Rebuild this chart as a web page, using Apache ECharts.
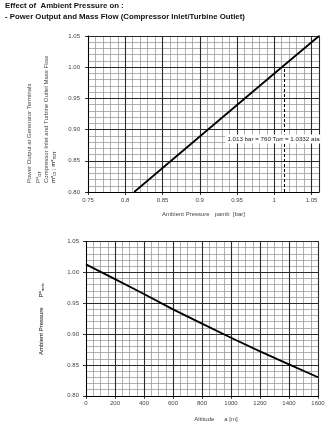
<!DOCTYPE html>
<html><head><meta charset="utf-8">
<script src="https://cdn.jsdelivr.net/npm/echarts@6/dist/echarts.min.js"></script>
<style>html,body{margin:0;padding:0;background:#fff}#c{width:328px;height:425px}</style>
</head><body><div id="c"></div>
<script>
// ---- data ----
const titleLine1 = 'Effect of  Ambient Pressure on :';
const titleLine2 = '- Power Output and Mass Flow (Compressor Inlet/Turbine Outlet)';
const topXName = 'Ambient Pressure   pamb  [bar]';
const bottomXName = 'Altitude      a [m]';
const pressureBar = [0.812, 0.90, 1.00, 1.06];
const powerRatio  = [0.80, 0.889, 0.99, 1.05];
const refPressure = 1.013;
const refRange = [0.80, 1.00];
const refLabelY = 0.885;
const refLabel = '1.013 bar = 760 Torr = 1.0332 ata';
const altitudeM = [0, 200, 400, 600, 800, 1000, 1200, 1400, 1600];
const ambPressure = [1.013, 0.989, 0.965, 0.940, 0.917, 0.894, 0.872, 0.851, 0.830];

const FONT = 'Liberation Sans, Arial, sans-serif';
const MAJOR = '#2a2a2a', MINOR = '#8f8f8f', LBL = '#444';

function minorAxis(pos, gi, min, max, iv) {
  return {
    type: 'value', gridIndex: gi, position: pos, min: min, max: max, interval: iv, z: 0,
    axisLine: {show: true, onZero: false, lineStyle: {color: '#000', width: 1}},
    axisTick: {show: false}, axisLabel: {show: false},
    splitLine: {show: true, lineStyle: {color: MINOR, width: 0.7}}
  };
}
function majorAxis(pos, gi, min, max, iv, extra) {
  return Object.assign({
    type: 'value', gridIndex: gi, position: pos, min: min, max: max, interval: iv, z: 1,
    axisLine: {show: true, onZero: false, lineStyle: {color: '#000', width: 1}},
    axisTick: {show: true, inside: false, length: 3, lineStyle: {color: '#000', width: 0.8}},
    axisLabel: {show: true, fontFamily: FONT, fontSize: 6, color: LBL, margin: 5, showMaxLabel: true},
    splitLine: {show: true, lineStyle: {color: MAJOR, width: 1.1}}
  }, extra || {});
}

const chart = echarts.init(document.getElementById('c'), null, {renderer: 'canvas'});
chart.setOption({
  animation: false,
  backgroundColor: '#fff',
  grid: [
    {left: 88, right: 9, top: 36, height: 156},
    {left: 86, right: 10, top: 241.5, height: 154.3}
  ],
  xAxis: [
    minorAxis('top', 0, 0.75, 1.06, 0.01),
    majorAxis('bottom', 0, 0.75, 1.06, 0.05, {
      name: topXName, nameLocation: 'middle', nameGap: 19,
      nameTextStyle: {fontFamily: FONT, fontSize: 6, color: LBL},
      axisLabel: {show: true, fontFamily: FONT, fontSize: 6, color: LBL, margin: 5, showMaxLabel: false}
    }),
    minorAxis('top', 1, 0, 1600, 50),
    majorAxis('bottom', 1, 0, 1600, 200, {
      name: bottomXName, nameLocation: 'middle', nameGap: 21,
      nameTextStyle: {fontFamily: FONT, fontSize: 6, color: LBL, padding: [0, 0, 0, 28]},
      axisLabel: {show: true, fontFamily: FONT, fontSize: 6, color: LBL, margin: 5, formatter: v => String(v)}
    })
  ],
  yAxis: [
    minorAxis('right', 0, 0.80, 1.05, 0.01),
    majorAxis('left', 0, 0.80, 1.05, 0.05, {
      axisLabel: {show: true, fontFamily: FONT, fontSize: 6, color: LBL, margin: 8,
        formatter: v => v.toFixed(2)}
    }),
    minorAxis('right', 1, 0.80, 1.05, 0.01),
    majorAxis('left', 1, 0.80, 1.05, 0.05, {
      axisLabel: {show: true, fontFamily: FONT, fontSize: 6, color: LBL, margin: 7,
        formatter: v => v.toFixed(2)}
    })
  ],
  series: [
    {
      type: 'line', xAxisIndex: 1, yAxisIndex: 1, z: 5,
      data: pressureBar.map((x, i) => [x, powerRatio[i]]),
      showSymbol: false, symbol: 'none',
      lineStyle: {color: '#000', width: 1.8},
      markLine: {
        silent: true, symbol: 'none', animation: false,
        lineStyle: {color: '#000', type: [3, 2], width: 1},
        label: {show: false},
        data: [[{coord: [refPressure, refRange[0]]}, {coord: [refPressure, refRange[1]]}]]
      },
      markPoint: {
        silent: true, symbol: 'rect', symbolSize: 0,
        label: {show: true, formatter: refLabel, fontFamily: FONT, fontSize: 6.2, color: '#222',
          backgroundColor: '#fff', padding: [2, 1, 1, 2], offset: [-11, 0]},
        data: [{coord: [refPressure, refLabelY]}]
      }
    },
    {
      type: 'line', xAxisIndex: 3, yAxisIndex: 3, z: 5,
      data: altitudeM.map((x, i) => [x, ambPressure[i]]),
      showSymbol: false, symbol: 'none',
      lineStyle: {color: '#000', width: 1.8}
    }
  ],
  graphic: [
    {type: 'text', left: 5, top: 2, style: {text: titleLine1, font: 'bold 7.8px ' + FONT, fill: '#111'}},
    {type: 'text', left: 5, top: 13, style: {text: titleLine2, font: 'bold 7.8px ' + FONT, fill: '#111'}},
    {type: 'text', x: 29, y: 183, rotation: Math.PI / 2,
      style: {text: 'Power Output at Generator Terminals', font: '6px ' + FONT, fill: LBL, align: 'left', verticalAlign: 'middle'}},
    {type: 'text', x: 38, y: 183, rotation: Math.PI / 2,
      style: {text: '{a|P*}{s|GT}', align: 'left', verticalAlign: 'middle',
        rich: {a: {fontFamily: FONT, fontSize: 6, fill: LBL, color: LBL}, s: {fontFamily: FONT, fontSize: 4, color: LBL, padding: [3, 0, 0, 0]}}}},
    {type: 'text', x: 46, y: 183, rotation: Math.PI / 2,
      style: {text: 'Compressor Inlet and Turbine Outlet Mass Flow', font: '6px ' + FONT, fill: LBL, align: 'left', verticalAlign: 'middle'}},
    {type: 'text', x: 53, y: 183, rotation: Math.PI / 2,
      style: {text: '{a|m*}{s|CI}{a| ; m*}{s|TOT}', align: 'left', verticalAlign: 'middle',
        rich: {a: {fontFamily: FONT, fontSize: 6, color: LBL}, s: {fontFamily: FONT, fontSize: 4, color: LBL, padding: [3, 0, 0, 0]}}}},
    {type: 'text', x: 41, y: 355, rotation: Math.PI / 2,
      style: {text: '{a|Ambient Pressure      P*}{s|amb}', align: 'left', verticalAlign: 'middle',
        rich: {a: {fontFamily: FONT, fontSize: 6, color: LBL}, s: {fontFamily: FONT, fontSize: 4, color: LBL, padding: [3, 0, 0, 0]}}}}
  ]
});
</script></body></html>
